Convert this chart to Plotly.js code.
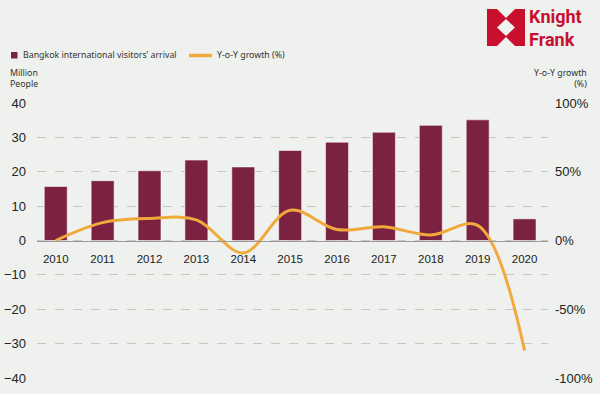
<!DOCTYPE html>
<html>
<head>
<meta charset="utf-8">
<script src="https://cdn.plot.ly/plotly-3.0.1.min.js"></script>
<style>
html,body{margin:0;padding:0;background:#eef1ed;}
#chart{width:600px;height:394px;}
</style>
</head>
<body>
<div id="chart"></div>
<script>
const years = ["2010","2011","2012","2013","2014","2015","2016","2017","2018","2019","2020"];
const arrivals = [15.7, 17.4, 20.3, 23.4, 21.4, 26.2, 28.6, 31.5, 33.5, 35.1, 6.3];
const yoyGrowth = [0, 13, 16, 15, -9, 22, 8, 10, 4, 11, -80];
const leftTicks = [-40, -30, -20, -10, 0, 10, 20, 30, 40];
const rightTicks = [-100, -50, 0, 50, 100];
const rightTickText = ["-100%", "-50%", "0%", "50%", "100%"];
const seriesNames = ["Bangkok international visitors’ arrival", "Y-o-Y growth (%)"];

const BG = "#eef1ed";
const MAROON = "#7b2242";
const ORANGE = "#f2a93b";
const RED = "#c8102e";
const TXT = "#333";
const LEG_FONT = "Noto Sans, sans-serif";

const traces = [
  {
    type: "bar",
    name: seriesNames[0],
    x: years,
    y: arrivals,
    width: 0.49,
    marker: {color: MAROON, line: {color: "rgba(255,255,255,0.55)", width: 1}},
    yaxis: "y",
    showlegend: false
  },
  {
    type: "scatter",
    mode: "lines",
    name: seriesNames[1],
    x: years,
    y: yoyGrowth,
    line: {color: ORANGE, width: 3, shape: "spline", smoothing: 1},
    yaxis: "y2",
    showlegend: false
  }
];

// pixel -> paper helpers (plot area: x 37..548, y 103..378)
function px(x){ return (x - 37) / 511; }
function py(y){ return 1 - (y - 103) / 275; }
const poly = (pts) => "M" + pts.map(p => px(p[0]).toFixed(4) + "," + py(p[1]).toFixed(4)).join("L") + "Z";

const L = 487, R = 525, T = 9, B = 46;
const mx = (L + R) / 2, my = (T + B) / 2;
const shapes = [
  // legend swatches
  {type: "rect", xref: "paper", yref: "paper", x0: px(11), x1: px(17.5), y0: py(52), y1: py(58.5),
   fillcolor: MAROON, line: {width: 0}},
  {type: "line", xref: "paper", yref: "paper", x0: px(189), x1: px(212), y0: py(55.5), y1: py(55.5),
   line: {color: ORANGE, width: 3.5}},
  // logo
  {type: "path", xref: "paper", yref: "paper", path: poly([[L,T],[R,T],[R,B],[L,B]]), fillcolor: RED, line: {width: 0}},
  {type: "path", xref: "paper", yref: "paper", path: poly([[mx-9,T],[mx+9,T],[mx,T+9]]), fillcolor: BG, line: {width: 0}},
  {type: "path", xref: "paper", yref: "paper", path: poly([[mx-9,B],[mx+9,B],[mx,B-9]]), fillcolor: BG, line: {width: 0}},
  {type: "path", xref: "paper", yref: "paper", path: poly([[mx,T+10],[mx+9,my],[mx,B-10],[mx-9,my]]), fillcolor: BG, line: {width: 0}}
];

const layout = {
  width: 600,
  height: 394,
  paper_bgcolor: BG,
  plot_bgcolor: BG,
  margin: {l: 37, r: 52, t: 103, b: 16},
  font: {family: "Liberation Sans, Arial, sans-serif", color: "#222"},
  showlegend: false,
  xaxis: {
    type: "category",
    range: [-0.4, 10.5],
    anchor: "free",
    position: 0.5,
    showgrid: false,
    showline: true,
    linecolor: "#9a9a9a",
    linewidth: 1.5,
    ticks: "",
    ticklabelstandoff: 7,
    tickfont: {size: 11.5, color: "#222"}
  },
  yaxis: {
    range: [-40, 40],
    tickvals: leftTicks,
    showgrid: true,
    gridcolor: "#c6c8c4",
    griddash: "dash",
    gridwidth: 1,
    zeroline: false,
    ticks: "",
    ticklabelstandoff: 10,
    tickfont: {size: 13, color: "#222"}
  },
  yaxis2: {
    range: [-100, 100],
    overlaying: "y",
    side: "right",
    tickvals: rightTicks,
    ticktext: rightTickText,
    showgrid: false,
    zeroline: false,
    ticks: "",
    ticklabelstandoff: 6,
    tickfont: {size: 13, color: "#222"}
  },
  shapes: shapes,
  annotations: [
    {xref: "paper", yref: "paper", x: px(21), y: py(55.5), xanchor: "left", yanchor: "middle",
     text: seriesNames[0], showarrow: false, font: {family: LEG_FONT, size: 8.8, color: TXT}},
    {xref: "paper", yref: "paper", x: px(215), y: py(55.5), xanchor: "left", yanchor: "middle",
     text: seriesNames[1], showarrow: false, font: {family: LEG_FONT, size: 8.8, color: TXT}},
    {xref: "paper", yref: "paper", x: px(8), y: py(79), xanchor: "left", yanchor: "middle",
     text: "Million<br>People", showarrow: false, align: "left",
     font: {family: LEG_FONT, size: 8.8, color: TXT}},
    {xref: "paper", yref: "paper", x: px(589), y: py(79), xanchor: "right", yanchor: "middle",
     text: "Y-o-Y growth<br>(%)", showarrow: false, align: "right",
     font: {family: LEG_FONT, size: 8.8, color: TXT}},
    {xref: "paper", yref: "paper", x: px(528), y: py(28), xanchor: "left", yanchor: "middle",
     text: "<b>Knight</b><br><b>Frank</b>", showarrow: false, align: "left", borderpad: 0,
     font: {family: "Roboto, sans-serif", size: 18, color: RED}}
  ]
};

Plotly.newPlot("chart", traces, layout, {displayModeBar: false, staticPlot: true});
</script>
</body>
</html>
